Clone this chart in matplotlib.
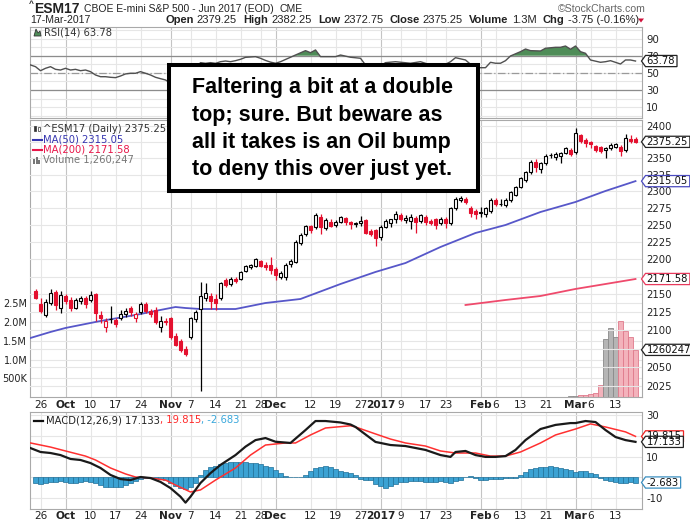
import matplotlib
matplotlib.use("Agg")
import matplotlib.pyplot as plt
import numpy as np
import pandas as pd
from matplotlib.patches import Rectangle, Polygon
from matplotlib.ticker import NullLocator, NullFormatter

# ------------------------------------------------------------------ data
holidays = ["2016-11-24", "2016-12-26", "2017-01-02", "2017-01-16", "2017-02-20"]
dates = pd.bdate_range("2016-09-23", "2017-03-17", freq="C", holidays=holidays)

opens = [2154, 2136, 2121, 2138, 2153, 2131, 2147, 2142, 2131, 2140,
         2145, 2142, 2150, 2121, 2105, 2115, 2114, 2117, 2122, 2131,
         2117, 2125, 2137, 2126, 2128, 2104, 2113, 2117, 2092, 2085,
         2074, 2091, 2116, 2129, 2145, 2148, 2144, 2145, 2170, 2164,
         2172, 2172, 2183, 2189, 2190, 2197, 2192, 2191, 2186, 2175,
         2174, 2193, 2196, 2224, 2236, 2248, 2246, 2261, 2245, 2254,
         2250, 2254, 2260, 2254, 2251, 2252, 2257, 2241, 2242, 2232,
         2247, 2253, 2258, 2264, 2257, 2255, 2260, 2256, 2261, 2256,
         2258, 2252, 2258, 2252, 2274, 2286, 2288, 2275, 2270, 2268,
         2266, 2270, 2287, 2280, 2279, 2286, 2294, 2306, 2317, 2329,
         2344, 2333, 2342, 2355, 2352, 2354, 2358, 2362, 2359, 2386,
         2378, 2375, 2369, 2367, 2363, 2366, 2368, 2368, 2363, 2380,
         2379.25]
highs = [2157, 2145, 2143, 2157, 2156, 2155, 2150, 2146, 2145, 2147,
         2148, 2154, 2152, 2126, 2117, 2133, 2117, 2128, 2131, 2134,
         2125, 2139, 2139, 2129, 2132, 2120, 2117, 2119, 2096, 2088,
         2079, 2119, 2128, 2168, 2166, 2152, 2150, 2168, 2173, 2175,
         2174, 2183, 2191, 2193, 2201, 2199, 2196, 2203, 2189, 2183,
         2195, 2200, 2227, 2238, 2250, 2250, 2268, 2266, 2260, 2258,
         2257, 2263, 2262, 2256, 2254, 2263, 2259, 2243, 2244, 2250,
         2258, 2259, 2270, 2267, 2265, 2266, 2263, 2266, 2264, 2259,
         2260, 2262, 2261, 2276, 2291, 2293, 2291, 2278, 2273, 2276,
         2276, 2289, 2290, 2288, 2289, 2300, 2308, 2322, 2331, 2347,
         2348, 2344, 2357, 2358, 2360, 2359, 2367, 2365, 2397, 2388,
         2381, 2377, 2371, 2369, 2368, 2374, 2374, 2371, 2387, 2386,
         2382.25]
lows = [2143, 2124, 2118, 2135, 2128, 2124, 2137, 2127, 2129, 2137,
        2131, 2139, 2113, 2110, 2097, 2110, 2104, 2114, 2119, 2120,
        2112, 2123, 2124, 2118, 2108, 2098, 2107, 2088, 2078, 2071,
        2065, 2088, 2111, 2018, 2140, 2130, 2128, 2142, 2160, 2161,
        2166, 2170, 2181, 2186, 2189, 2189, 2184, 2178, 2170, 2172,
        2170, 2189, 2194, 2221, 2233, 2238, 2243, 2236, 2242, 2246,
        2247, 2252, 2250, 2244, 2247, 2248, 2236, 2233, 2219, 2228,
        2245, 2247, 2252, 2256, 2253, 2244, 2238, 2253, 2250, 2250,
        2244, 2249, 2245, 2250, 2272, 2284, 2281, 2262, 2258, 2262,
        2261, 2268, 2278, 2277, 2276, 2284, 2292, 2304, 2314, 2326,
        2329, 2328, 2340, 2350, 2347, 2343, 2356, 2354, 2357, 2374,
        2368, 2366, 2360, 2358, 2350, 2362, 2365, 2353, 2360, 2374,
        2372.75]
closes = [2145, 2127, 2139, 2152, 2135, 2149, 2140, 2131, 2142, 2145,
          2136, 2149, 2124, 2117, 2113, 2116, 2108, 2123, 2127, 2125,
          2123, 2136, 2126, 2122, 2112, 2113, 2111, 2091, 2080, 2073,
          2068, 2117, 2125, 2148, 2152, 2140, 2138, 2166, 2163, 2172,
          2169, 2182, 2190, 2191, 2200, 2190, 2189, 2184, 2177, 2180,
          2192, 2197, 2225, 2235, 2248, 2242, 2264, 2246, 2257, 2248,
          2254, 2261, 2254, 2251, 2252, 2256, 2238, 2237, 2230, 2246,
          2256, 2258, 2266, 2259, 2260, 2262, 2254, 2264, 2254, 2253,
          2250, 2259, 2252, 2274, 2288, 2289, 2283, 2268, 2266, 2269,
          2274, 2286, 2280, 2281, 2287, 2298, 2306, 2320, 2329, 2344,
          2337, 2343, 2354, 2355.5, 2356, 2358, 2365, 2357, 2389, 2377,
          2374, 2372, 2363, 2361, 2366, 2370, 2372, 2361, 2381, 2376.5,
          2375.25]

# sparse readings; day numbers count trading days from 23-Sep-2016 (= 0)
ma50_day = [-1, 3, 6, 13, 20, 25, 28, 30, 33, 40, 46, 53, 61, 68, 74, 81, 88,
            94, 101, 108, 114, 120]
ma50_val = [2089.5, 2097.7, 2103.2, 2112.8, 2121.1, 2128.1, 2132.2, 2130.8,
            2129.4, 2129.4, 2137.8, 2143.4, 2164.5, 2181.6, 2194.4, 2217.5,
            2237.9, 2249.6, 2268.8, 2283.7, 2300.2, 2315.05]
ma200_day = [86, 94, 101, 108, 114, 120]
ma200_val = [2135.0, 2142.0, 2147.6, 2157.5, 2164.5, 2171.58]

vol_day = [107, 108, 109, 110, 111, 112, 113, 114, 115, 116, 117, 118, 119, 120]
vol_val = [20000, 30000, 45000, 55000, 70000, 100000, 310000, 1550000,
           1840000, 1600000, 2030000, 1760000, 1600000, 1260247]
vol_up = [True, True, False, False, False, False, False, True, True, True,
          False, False, False, False]

rsi_day = [-1, 0, 1, 2, 3, 4, 5, 6, 7, 8, 9, 10, 11, 12, 13, 14, 15, 16, 17,
           18, 19, 20, 21, 22, 23, 24, 25, 26, 27, 28, 29, 30, 31, 32, 33, 34,
           35, 36, 37, 38, 39, 40, 41, 42, 44, 45, 46, 47, 48, 49, 52, 54, 55,
           56, 57, 60, 61, 63, 65, 66, 67, 69, 70, 72, 75, 77, 79, 80, 82, 83,
           84, 86, 87, 88, 90, 91, 92, 93, 94, 95, 97, 98, 99, 101, 102, 104,
           105, 106, 107, 108, 109, 110, 111, 113, 114, 115, 117, 118, 119, 120]
rsi_val = [59.2, 57.2, 52.5, 55.3, 57.2, 54.1, 53.3, 55.3, 53.3, 54.1, 52.5,
           53.3, 51.4, 47.5, 45.5, 45.5, 44.8, 44.4, 46.3, 48.7, 49.5, 49.5,
           51.4, 49.5, 47.5, 44.8, 43.2, 41.7, 38.0, 34.0, 31.0, 29.0, 45.0,
           55.0, 61.9, 61.1, 61.9, 61.1, 63.0, 63.8, 63.0, 64.2, 65.8, 68.1,
           68.9, 67.0, 64.5, 62.5, 61.2, 63.0, 70.8, 75.9, 73.5, 76.7, 68.9,
           68.9, 70.8, 68.2, 67.0, 59.2, 54.0, 58.0, 61.9, 63.0, 61.2, 63.0,
           59.2, 58.0, 60.0, 63.0, 67.7, 65.0, 60.0, 56.0, 56.0, 62.3, 61.2,
           61.2, 64.2, 69.7, 74.7, 77.8, 75.9, 75.5, 78.7, 79.8, 79.8, 81.3,
           77.5, 81.3, 74.7, 72.8, 65.0, 62.3, 63.0, 64.2, 60.3, 65.0, 65.0,
           63.78]

macd_day = [-1, 1, 3, 5, 7, 9, 11, 13, 15, 17, 19, 21, 23, 25, 27, 29, 30, 31,
            33, 35, 37, 40, 42, 44, 46, 48, 51, 54, 56, 58, 61, 63, 64, 68, 71,
            74, 78, 81, 83, 84, 86, 88, 90, 92, 94, 96, 98, 101, 104, 107, 108,
            110, 112, 114, 116, 118, 120]
macd_val = [14.1, 12.2, 11.7, 10.7, 8.8, 8.3, 6.8, 4.4, 1.0, -1.0, -1.5, 0.0,
            -0.5, -2.4, -5.4, -9.6, -12.5, -9.6, -2.9, 1.9, 5.9, 10.7, 14.8,
            18.0, 19.0, 17.2, 16.6, 22.9, 27.3, 27.3, 26.6, 25.6, 24.4, 17.1,
            15.6, 15.1, 13.2, 10.7, 9.8, 12.2, 12.7, 10.7, 9.8, 9.8, 10.2, 13.2,
            18.0, 23.4, 25.4, 26.3, 26.3, 27.3, 26.8, 22.9, 19.5, 18.0, 17.133]
signal_day = [-1, 3, 6, 10, 12, 15, 18, 20, 23, 26, 28, 31, 33, 36, 40, 43, 46,
              50, 52, 55, 58, 63, 64, 68, 71, 74, 78, 81, 84, 88, 91, 94, 97,
              101, 104, 108, 111, 114, 118, 120]
signal_val = [16.6, 14.6, 12.7, 10.2, 8.3, 4.4, 1.5, 0.0, -0.5, -1.5, -3.9,
              -7.3, -6.3, -1.5, 4.4, 10.7, 15.6, 16.6, 16.6, 20.5, 23.9, 25.0,
              24.4, 21.0, 18.5, 16.6, 15.1, 12.7, 11.7, 11.7, 10.2, 10.2, 12.2,
              16.6, 20.5, 23.4, 25.9, 24.4, 22.0, 19.815]
hist_val = [-2.8, -3.4, -2.8, -2.3, -2.3, -2.0, -2.3, -3.1, -2.8, -2.3,
            -1.8, -2.3, -3.1, -3.9, -4.7, -5.0, -5.0, -4.7, -3.9, -2.8,
            -2.0, -1.1, -0.3, -0.2, -0.3, -0.8, -1.5, -3.1, -4.4, -5.5,
            -6.0, -4.7, -2.8, 1.0, 3.4, 4.7, 5.4, 6.3, 7.0, 7.5,
            7.5, 7.5, 7.3, 7.0, 6.7, 6.3, 5.4, 4.7, 3.4, 1.8,
            0.3, 0.0, 0.0, 0.2, 1.0, 3.1, 4.2, 4.7, 5.4, 4.7,
            3.7, 3.1, 2.6, 2.1, 0.8, -0.8, -1.3, -1.6, -3.3, -4.6,
            -5.2, -4.6, -3.6, -2.4, -2.4, -2.1, -2.1, -2.1, -2.4, -2.4,
            -2.4, -2.1, -2.4, -2.9, -2.1, -1.3, 0.0, 0.5, -0.3, -1.3,
            -1.6, -1.1, -0.8, -0.8, -0.5, -0.5, -0.3, 0.8, 2.4, 4.1,
            4.6, 4.9, 4.9, 5.2, 4.9, 4.6, 4.1, 3.6, 2.4, 2.9,
            2.9, 2.0, 1.3, -0.3, -1.3, -2.0, -2.4, -2.9, -2.9, -2.4,
            -2.683]

tick_dates = ["2016-09-26", "2016-10-03", "2016-10-10", "2016-10-17", "2016-10-24",
              "2016-11-01", "2016-11-07", "2016-11-14", "2016-11-21", "2016-11-28",
              "2016-12-01", "2016-12-12", "2016-12-19", "2016-12-27", "2017-01-03",
              "2017-01-09", "2017-01-17", "2017-01-23", "2017-02-01", "2017-02-06",
              "2017-02-13", "2017-02-21", "2017-03-01", "2017-03-06", "2017-03-13"]
tick_labels = ["26", "Oct", "10", "17", "24", "Nov", "7", "14", "21", "28", "Dec",
               "12", "19", "27", "2017", "9", "17", "23", "Feb", "6", "13", "21",
               "Mar", "6", "13"]

price_ticks = [2025, 2050, 2075, 2100, 2125, 2150, 2175, 2200, 2225, 2250, 2275,
               2300, 2325, 2350, 2375, 2400]
price_hidden = [2075, 2375]          # labels covered by value tags in the chart
vol_ticks = [500000, 1000000, 1500000, 2000000, 2500000]
vol_tick_labels = ["500K", "1.0M", "1.5M", "2.0M", "2.5M"]
rsi_ticks = [10, 30, 50, 70, 90]
macd_ticks = [-10, 0, 10, 20, 30]
macd_hidden = [0, 20]               # labels covered by value tags in the chart

symbol = "ESM17"
title = "CBOE E-mini S&P 500 - Jun 2017 (EOD)"
exchange = "CME"
date_str = "17-Mar-2017"
quote = [("Open", "2379.25"), ("High", "2382.25"), ("Low", "2372.75"),
         ("Close", "2375.25"), ("Volume", "1.3M"), ("Chg", "-3.75 (-0.16%)")]
note_lines = ["Faltering a bit at a double", "top; sure. But beware as",
              "all it takes is an Oil bump", "to deny this over just yet."]

# ------------------------------------------------------------------ figure
W, H = 690, 527
fig = plt.figure(figsize=(W / 100, H / 100), dpi=100)
fig.patch.set_facecolor("white")
AXF = "DejaVu Sans"
HDF = "Liberation Sans"

RED = "#e4112f"
BLUE_MA = "#5757c9"
RED_MA = "#ef4a6c"
GRID = "#e6e6e6"
GRID_M = "#c4c4c4"


def frac(x0, y0, x1, y1):
    return [x0 / W, 1 - y1 / H, (x1 - x0) / W, (y1 - y0) / H]


PX0, PX1 = 30, 642
ax_rsi = fig.add_axes(frac(PX0, 27, PX1, 118))
ax_vol = fig.add_axes(frac(PX0, 120, PX1, 397))
ax_px = fig.add_axes(frac(PX0, 120, PX1, 397))
ax_macd = fig.add_axes(frac(PX0, 412, PX1, 509))
ax_px.patch.set_visible(False)

XMIN, XMAX = -1.1, 121.3
tick_pos = [dates.get_loc(pd.Timestamp(d)) for d in tick_dates]
is_month = [not lbl.isdigit() or lbl == "2017" for lbl in tick_labels]

for ax in (ax_rsi, ax_vol, ax_px, ax_macd):
    ax.set_xlim(XMIN, XMAX)
    for s in ax.spines.values():
        s.set_color("#a9a9a9")
        s.set_linewidth(0.8)
    ax.tick_params(length=0, labelsize=7.3, colors="#222")

for ax in (ax_rsi, ax_vol, ax_macd):
    for p, m in zip(tick_pos, is_month):
        ax.axvline(p, color=GRID_M if m else GRID, lw=0.8, zorder=0)
ax_px.spines[:].set_visible(False)

# ---- RSI panel
ax_rsi.set_ylim(-2.7, 103.5)
for v in range(0, 101, 10):
    ax_rsi.axhline(v, color=GRID, lw=0.8, zorder=0)
ax_rsi.axhline(70, color="#8c8c8c", lw=0.9, zorder=1)
ax_rsi.axhline(30, color="#8c8c8c", lw=0.9, zorder=1)
ax_rsi.axhline(50, color="#9a9a9a", lw=0.9, ls=(0, (6, 2, 1, 2)), zorder=1)
rd = np.array(rsi_day, float)
rv = np.array(rsi_val, float)
ax_rsi.fill_between(rd, 70, rv, where=rv >= 70, interpolate=True,
                    color="#4f8d58", lw=0, zorder=2)
ax_rsi.plot(rd, rv, color="#505050", lw=1.0, zorder=3)
ax_rsi.yaxis.tick_right()
ax_rsi.set_yticks(rsi_ticks)
ax_rsi.set_yticklabels([str(t) for t in rsi_ticks], family=AXF)
ax_rsi.set_xticks([])
ax_rsi.tick_params(axis="y", pad=3)

# ---- volume (under price)
ax_vol.set_ylim(0, 7.406e6)
for v in vol_ticks:
    ax_vol.axhline(v, color=GRID, lw=0.8, zorder=0)
vcol = ["#b5b5b5" if u else "#f3b2bb" for u in vol_up]
vedge = ["#8a8a8a" if u else "#e07a8c" for u in vol_up]
ax_vol.bar(vol_day, vol_val, width=1.0, color=vcol, edgecolor=vedge, lw=0.6,
           zorder=1)
ax_vol.yaxis.tick_left()
ax_vol.set_yticks(vol_ticks)
ax_vol.set_yticklabels(vol_tick_labels, family=AXF, fontsize=7)
ax_vol.tick_params(axis="y", pad=2)
ax_vol.set_xticks([])

# ---- price panel
ax_px.set_yscale("log")
ax_px.set_ylim(2010.4, 2409.4)
ax_px.yaxis.set_minor_locator(NullLocator())
ax_px.yaxis.set_minor_formatter(NullFormatter())
for p in price_ticks:
    ax_px.axhline(p, color=GRID, lw=0.8, zorder=0)
ax_px.yaxis.tick_right()
ax_px.set_yticks(price_ticks)
ax_px.set_yticklabels(["" if t in price_hidden else str(t) for t in price_ticks],
                      family=AXF)
ax_px.tick_params(axis="y", pad=3)

o = np.array(opens, float)
hi = np.array(highs, float)
lo = np.array(lows, float)
c = np.array(closes, float)
x = np.arange(len(c))
prev = np.r_[o[0], c[:-1]]
cols = np.where(c < prev, RED, "#000000")
filled = c < o
ax_px.vlines(x, lo, hi, colors=cols, lw=0.9, zorder=3)
body_lo = np.minimum(o, c)
body_h = np.maximum(np.abs(c - o), 0.35)
faces = [col if f else "white" for col, f in zip(cols, filled)]
ax_px.bar(x, body_h, bottom=body_lo, width=0.7, color=faces, edgecolor=cols,
          lw=0.8, zorder=4)
ax_px.plot(ma50_day, ma50_val, color=BLUE_MA, lw=1.3, zorder=2)
ax_px.plot(ma200_day, ma200_val, color=RED_MA, lw=1.3, zorder=2)

# ---- MACD panel
ax_macd.set_ylim(-15.6, 31.7)
for v in macd_ticks:
    ax_macd.axhline(v, color=GRID, lw=0.8, zorder=0)
ax_macd.bar(x, hist_val, width=1.0, color="#3ba2d3", edgecolor="#1f6f98",
            lw=0.5, zorder=2)
ax_macd.plot(signal_day, signal_val, color="#ff3030", lw=1.1, zorder=3)
ax_macd.plot(macd_day, macd_val, color="#1a1a1a", lw=1.6, zorder=4)
ax_macd.yaxis.tick_right()
ax_macd.set_yticks(macd_ticks)
ax_macd.set_yticklabels(["" if t in macd_hidden else str(t) for t in macd_ticks],
                        family=AXF)
ax_macd.tick_params(axis="y", pad=3)

for ax, pad in ((ax_px, 2.2), (ax_macd, 1.6)):
    ax.set_xticks(tick_pos)
    ax.set_xticklabels(tick_labels, family=AXF, fontsize=7.6)
    ax.tick_params(axis="x", pad=pad)
    for lab, m in zip(ax.get_xticklabels(), is_month):
        if m:
            lab.set_fontweight("bold")

# ------------------------------------------------------------------ overlay
ov = fig.add_axes([0, 0, 1, 1], zorder=10)
ov.set_xlim(0, W)
ov.set_ylim(H, 0)
ov.axis("off")
ov.patch.set_visible(False)
renderer = fig.canvas.get_renderer()


def runs(x0, y, items, size, family, target=None):
    """items: (text, weight, color, gap_before_px)"""
    def place(sz):
        xs = x0
        arts = []
        for txt, wt, col, gap in items:
            xs += gap * sz / size
            t = ov.text(xs, y, txt, fontsize=sz, fontweight=wt, color=col,
                        family=family, va="center", ha="left")
            xs += t.get_window_extent(renderer=renderer).width
            arts.append(t)
        return arts, xs - x0
    arts, width = place(size)
    if target is not None:
        for a in arts:
            a.remove()
        arts, width = place(size * target / width)
    return x0 + width


def to_ov(ax, yval):
    _, yd = ax.transData.transform((0, yval))
    return H - yd


def tag(ax, yval, text, ec):
    y = to_ov(ax, yval)
    t = ov.text(646.5, y, text, fontsize=7.2, family=AXF, color="#111",
                va="center", ha="left", zorder=12)
    w = t.get_window_extent(renderer=renderer).width + 3
    ov.add_patch(Polygon([(641.5, y), (645.5, y - 5.6), (645.5 + w, y - 5.6),
                          (645.5 + w, y + 5.6), (645.5, y + 5.6)], closed=True,
                         fc="white", ec=ec, lw=0.9, zorder=11))


tag(ax_rsi, rsi_val[-1], f"{rsi_val[-1]:.2f}", "#222")
tag(ax_px, closes[-1], f"{closes[-1]:.2f}", "#222")
tag(ax_px, ma50_val[-1], f"{ma50_val[-1]:.2f}", "#4b4bc0")
tag(ax_px, ma200_val[-1], f"{ma200_val[-1]:.2f}", "#e8395c")
tag(ax_vol, vol_val[-1], f"{vol_val[-1]}", "#222")
tag(ax_macd, signal_val[-1], f"{signal_val[-1]:.3f}", "#ee2222")
tag(ax_macd, macd_val[-1], f"{macd_val[-1]:.3f}", "#222")
tag(ax_macd, hist_val[-1], f"{hist_val[-1]:.3f}", "#3a8fc0")

# header
ov.text(29, 5, "^", fontsize=6, fontweight="bold", family=HDF, color="#222",
        va="center", ha="left")
end = runs(34, 9, [(symbol, "bold", "#222", 0)], 10, HDF)
runs(end + 5, 9.5, [(title, "normal", "#222", 0), (exchange, "normal", "#222", 5)],
     7.6, HDF, target=300 - end - 5)
ov.text(646, 9.5, "\u00a9StockCharts.com", fontsize=7.6, family=HDF,
        color="#666", va="center", ha="right")
ov.text(30, 20, date_str, fontsize=7.6, family=HDF, color="#222",
        va="center", ha="left")
items = []
for k, (lbl, val) in enumerate(quote):
    items.append((lbl, "bold", "#222", 0 if k == 0 else 6))
    items.append((val, "normal", "#222", 3))
runs(165, 20, items, 7.6, HDF, target=471)
ov.add_patch(Polygon([(638, 18.5), (644, 18.5), (641, 22.5)], closed=True,
                     fc="#d0103a", ec="none"))

# RSI legend
ov.add_patch(Polygon([(34, 36), (36, 29), (38, 33), (40, 31), (41, 36)],
                     closed=True, fc="#4f8d58", ec="#333", lw=0.6))
ov.text(44, 32.5, f"RSI(14) {rsi_val[-1]:.2f}", fontsize=7.2, family=AXF,
        color="#333", va="center", ha="left")

# price legend
ov.add_patch(Rectangle((34, 125.5), 2, 5, fc="#333", ec="#333", lw=0.5))
ov.add_patch(Rectangle((38, 126.5), 2, 4, fc="white", ec="#333", lw=0.5))
ov.text(43, 128.5, f"^{symbol} (Daily) {closes[-1]:.2f}", fontsize=7.2,
        family=AXF, color="#333", va="center", ha="left")
ov.plot([33, 42], [139.5, 139.5], color="#3636b0", lw=1.5)
ov.text(43, 139.5, f"MA(50) {ma50_val[-1]:.2f}", fontsize=7.2, family=AXF,
        color="#3636b0", va="center", ha="left")
ov.plot([33, 42], [150, 150], color="#e8174a", lw=1.5)
ov.text(43, 150, f"MA(200) {ma200_val[-1]:.2f}", fontsize=7.2, family=AXF,
        color="#e8174a", va="center", ha="left")
for bx, bh in ((33, 5), (35.5, 7), (38, 4)):
    ov.add_patch(Rectangle((bx, 164 - bh), 2, bh, fc="#777", ec="none"))
ov.text(43, 160.5, f"Volume {vol_val[-1]:,}", fontsize=7.2, family=AXF,
        color="#777", va="center", ha="left")

# MACD legend
ov.plot([34, 43], [420.5, 420.5], color="#111", lw=1.6)
runs(46, 420.5, [(f"MACD(12,26,9) {macd_val[-1]:.3f}", "normal", "#222", 0),
                 (f", {signal_val[-1]:.3f}", "normal", "#ff2a2a", 0),
                 (f", {hist_val[-1]:.3f}", "normal", "#3aa8dc", 0)], 7.2, AXF)

# annotation box
ov.add_patch(Rectangle((169, 65), 309, 126, fc="white", ec="black", lw=2.9,
                       zorder=20))
for k, line in enumerate(note_lines):
    ov.text(192, 88 + k * 27.3, line, fontsize=15.5, fontweight="bold",
            family=HDF, color="black", va="center", ha="left", zorder=21)

fig.savefig("out.png", dpi=100, facecolor="white")
